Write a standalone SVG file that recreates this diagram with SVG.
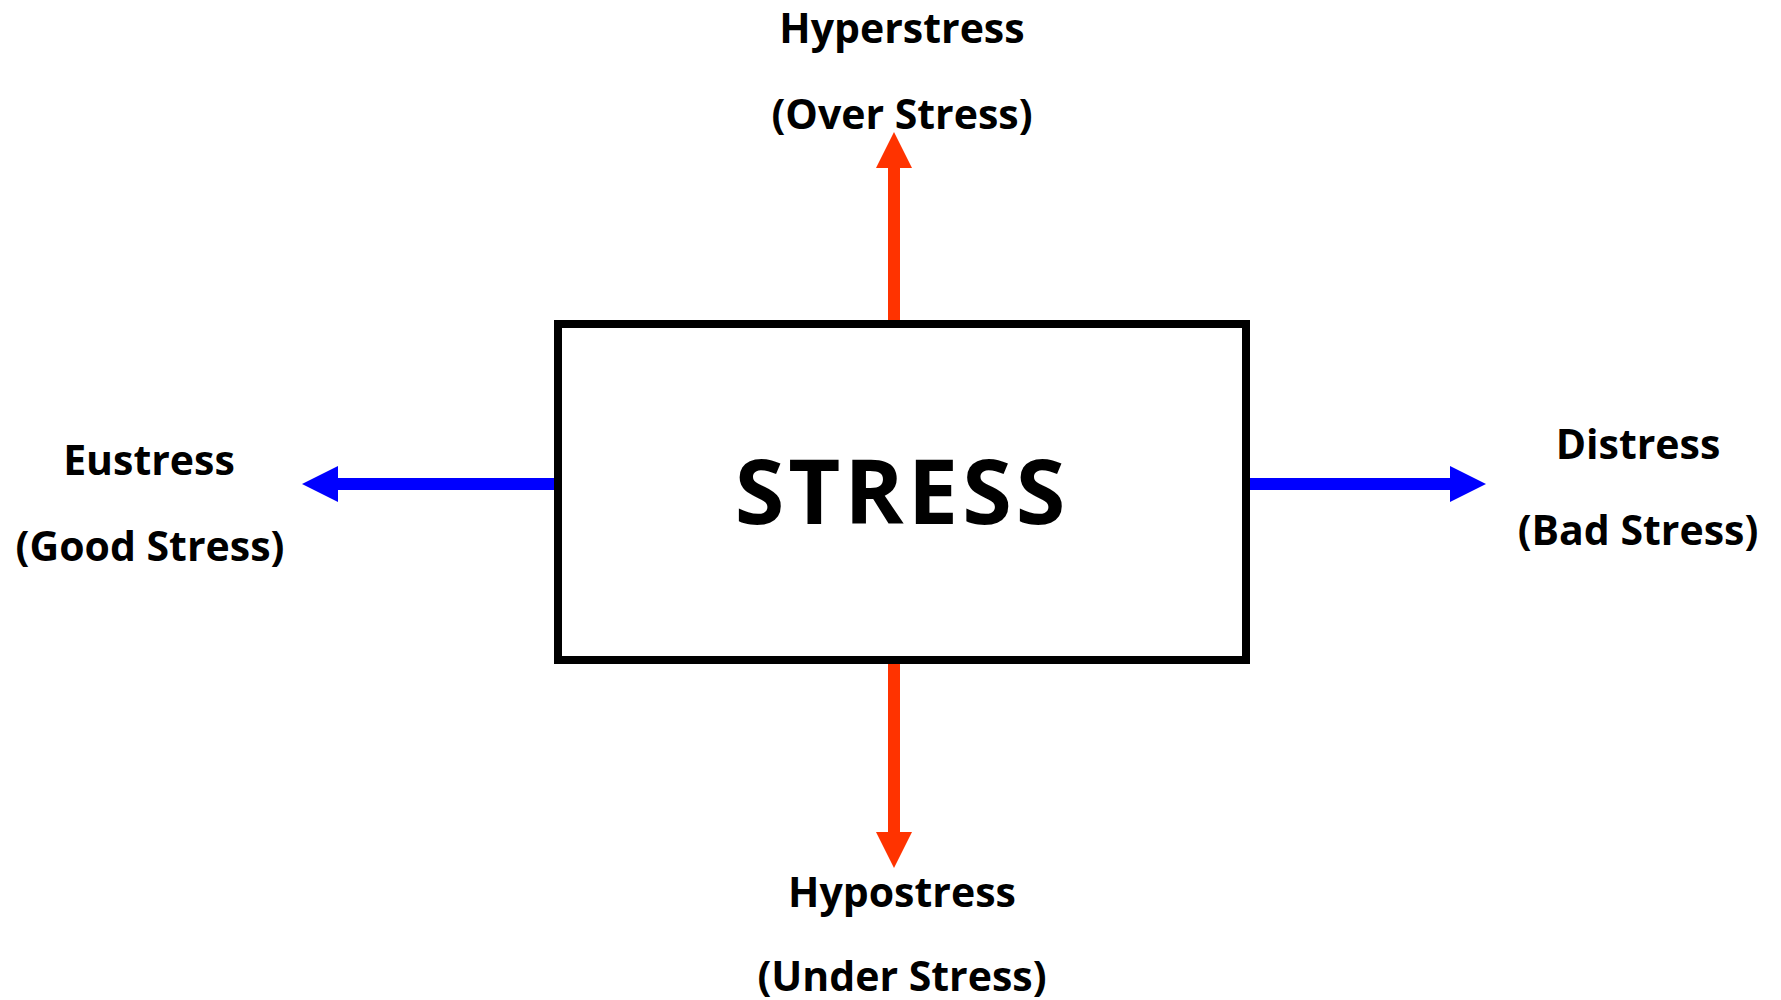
<svg xmlns="http://www.w3.org/2000/svg" width="1781" height="1000" viewBox="0 0 1781 1000">
  <style>
    .lbl { font-family: "Open Sans", "Liberation Sans", sans-serif; font-weight: 700; font-size: 41px; fill: #000; text-anchor: middle; }
    .title { font-family: "Open Sans", "Liberation Sans", sans-serif; font-weight: 700; font-size: 90px; letter-spacing: 4px; fill: #000; text-anchor: middle; }
    .box { fill: #fff; stroke: #000; stroke-width: 8; }
    .red { stroke: #ff3300; stroke-width: 12; fill: none; }
    .blue { stroke: #0000ff; stroke-width: 12; fill: none; }
  </style>
  <defs>
    <!-- arrowheads start at the end of the shaft and point along it -->
    <marker id="headRed" markerUnits="userSpaceOnUse" viewBox="0 0 36 36" refX="0" refY="18" markerWidth="36" markerHeight="36" orient="auto">
      <path d="M0,0 L36,18 L0,36 Z" fill="#ff3300"/>
    </marker>
    <marker id="headBlue" markerUnits="userSpaceOnUse" viewBox="0 0 36 36" refX="0" refY="18" markerWidth="36" markerHeight="36" orient="auto">
      <path d="M0,0 L36,18 L0,36 Z" fill="#0000ff"/>
    </marker>
  </defs>

  <g id="connectors">
    <line class="red" x1="894" y1="324" x2="894" y2="168" marker-end="url(#headRed)"/>
    <line class="red" x1="894" y1="660" x2="894" y2="832" marker-end="url(#headRed)"/>
    <line class="blue" x1="558" y1="484" x2="338" y2="484" marker-end="url(#headBlue)"/>
    <line class="blue" x1="1246" y1="484" x2="1450" y2="484" marker-end="url(#headBlue)"/>
  </g>

  <g id="stress">
    <rect class="box" x="558" y="324" width="688" height="336"/>
    <text class="title" x="902" y="524">STRESS</text>
  </g>

  <g id="hyperstress">
    <text class="lbl" x="902" y="43">Hyperstress</text>
    <text class="lbl" x="902" y="129">(Over Stress)</text>
  </g>

  <g id="hypostress">
    <text class="lbl" x="902" y="907">Hypostress</text>
    <text class="lbl" x="902" y="991">(Under Stress)</text>
  </g>

  <g id="eustress">
    <text class="lbl" x="149" y="475">Eustress</text>
    <text class="lbl" x="150" y="561">(Good Stress)</text>
  </g>

  <g id="distress">
    <text class="lbl" x="1638" y="459">Distress</text>
    <text class="lbl" x="1638" y="545">(Bad Stress)</text>
  </g>
</svg>
